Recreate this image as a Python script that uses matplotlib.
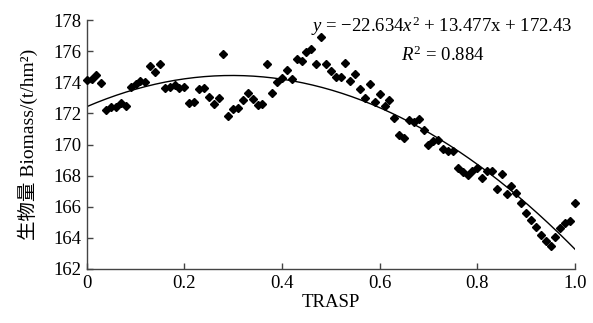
import numpy as np
import matplotlib
matplotlib.use("Agg")
import matplotlib.pyplot as plt

# data
trasp = [i / 100 for i in range(101)]
biomass = [
    174.12, 174.20, 174.48, 173.95, 172.20, 172.39, 172.39, 172.69, 172.45, 173.67,
    173.90, 174.10, 173.99, 175.06, 174.63, 175.16, 173.63, 173.67, 173.82, 173.63,
    173.67, 172.69, 172.75, 173.57, 173.60, 173.05, 172.60, 172.99, 175.80, 171.86,
    172.30, 172.37, 172.88, 173.31, 172.90, 172.56, 172.58, 175.16, 173.28, 174.01,
    174.27, 174.80, 174.20, 175.50, 175.38, 175.93, 176.14, 175.16, 176.93, 175.16,
    174.74, 174.37, 174.31, 175.23, 174.05, 174.52, 173.58, 172.99, 173.88, 172.75,
    173.25, 172.50, 172.88, 171.71, 170.58, 170.45, 171.60, 171.43, 171.65, 170.96,
    170.00, 170.21, 170.28, 169.68, 169.60, 169.60, 168.46, 168.25, 168.03, 168.29,
    168.51, 167.82, 168.29, 168.29, 167.17, 168.08, 166.80, 167.33, 166.86, 166.27,
    165.58, 165.15, 164.73, 164.20, 163.81, 163.49, 164.05, 164.62, 164.94, 165.09,
    166.22,
]
fit_a, fit_b, fit_c = -22.634, 13.477, 172.43
r2 = 0.884
x_ticks = [0, 0.2, 0.4, 0.6, 0.8, 1.0]
x_tick_labels = ["0", "0.2", "0.4", "0.6", "0.8", "1.0"]
y_ticks = [162, 164, 166, 168, 170, 172, 174, 176, 178]

plt.rcParams['font.family'] = ['Liberation Serif', 'Noto Sans CJK SC']
plt.rcParams['mathtext.fontset'] = 'custom'
plt.rcParams['mathtext.rm'] = 'Liberation Serif'
plt.rcParams['mathtext.it'] = 'Liberation Serif:italic'

fig = plt.figure(figsize=(5.93, 3.23), dpi=100)
ax = fig.add_axes([0.1462, 0.1672, 0.9696 - 0.1462, 0.938 - 0.1672])

ax.plot(trasp, biomass, linestyle='none', marker='D', markersize=4.4,
        color='black', clip_on=False, zorder=3)
xf = np.linspace(0, 1, 200)
ax.plot(xf, fit_a * xf ** 2 + fit_b * xf + fit_c, color='black', lw=1.0)

ax.set_xlim(0, 1.0)
ax.set_ylim(162, 178)
ax.set_xticks(x_ticks)
ax.set_xticklabels(x_tick_labels)
ax.set_yticks(y_ticks)
for s in ['top', 'right']:
    ax.spines[s].set_visible(False)
for s in ['left', 'bottom']:
    ax.spines[s].set_color('#444444')
    ax.spines[s].set_linewidth(1.0)
ax.tick_params(direction='in', length=4, width=1, color='#444444',
               labelsize=13.5, pad=4)

ax.set_xlabel('TRASP', fontsize=13.5, labelpad=2)
ax.set_ylabel('生物量 Biomass/(t/hm²)', fontsize=14, labelpad=11)

ax.text(0.995, 0.975,
        r'$\mathit{y}$ = −22.634$\mathit{x}^{2}$ + 13.477x + ' + f'{fit_c:.2f}',
        transform=ax.transAxes, ha='right', va='center', fontsize=13.5)
ax.text(0.815, 0.86, r'$\mathit{R}^{2}$ = ' + f'{r2:.3f}', transform=ax.transAxes,
        ha='right', va='center', fontsize=13.5)

fig.savefig('out.png', dpi=100)
